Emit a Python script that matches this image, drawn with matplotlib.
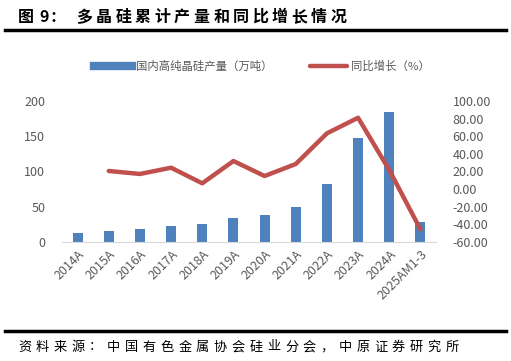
import numpy as np
import matplotlib
matplotlib.use("Agg")
import matplotlib.pyplot as plt
from matplotlib.lines import Line2D

plt.rcParams['font.family'] = ['Noto Sans CJK SC', 'DejaVu Sans']

years = ["2014A", "2015A", "2016A", "2017A", "2018A", "2019A", "2020A",
         "2021A", "2022A", "2023A", "2024A", "2025AM1-3"]
output = [13.2, 15.6, 18.4, 23.2, 25.0, 33.6, 38.3, 49.6, 82.0, 147.0, 184.0, 29.0]
growth = [np.nan, 20.6, 17.2, 24.3, 6.6, 31.9, 14.9, 28.5, 63.3, 81.0, 21.7, -45.6]

title = "多晶硅累计产量和同比增长情况"
source = "资料来源：中国有色金属协会硅业分会，中原证券研究所"

bar_color = "#4f81bd"
line_color = "#c0504d"
tick_color = "#595959"

fig = plt.figure(figsize=(5.11, 3.61), dpi=100)
ax = fig.add_axes([62/511, 1 - 242/361, 374/511, 141/361])
x = np.arange(len(years))
ax.bar(x, output, width=0.32, color=bar_color, zorder=2)
ax.set_xlim(-0.5, len(years) - 0.5)
ax.set_ylim(0, 200)
ax.set_yticks([0, 50, 100, 150, 200])
ax.set_xticks(x)
ax.set_xticklabels(years, rotation=45, ha="right", rotation_mode="anchor")
for s in ["top", "right", "left"]:
    ax.spines[s].set_visible(False)
ax.spines["bottom"].set_color("#d9d9d9")
ax.tick_params(axis="both", length=0, colors=tick_color, labelsize=9)
ax.tick_params(axis="y", pad=12)
ax.tick_params(axis="x", pad=4)

ax2 = ax.twinx()
ax2.plot(x, growth, color=line_color, lw=3.2, solid_capstyle="round", zorder=3)
ax2.set_ylim(-60, 100)
ax2.set_yticks(np.arange(-60, 101, 20))
ax2.set_yticklabels(["%.2f" % v for v in np.arange(-60, 101, 20)])
for s in ["top", "right", "left", "bottom"]:
    ax2.spines[s].set_visible(False)
ax2.tick_params(axis="y", length=0, colors=tick_color, labelsize=9, pad=12)

handles = [Line2D([], [], color=bar_color, lw=6),
           Line2D([], [], color=line_color, lw=3.2, solid_capstyle="round")]
fig.legend(handles, ["国内高纯晶硅产量（万吨）", "同比增长（%）"],
           loc="center left", bbox_to_anchor=(94/511, 1 - 66/361), ncol=2,
           frameon=False, fontsize=8.2, labelcolor=tick_color,
           handlelength=3.3, columnspacing=3.3, handletextpad=0.35,
           borderpad=0, borderaxespad=0)

# title, spaced out like the source document
for ch, px in [("图", 18), ("9", 39), ("：", 50)]:
    fig.text(px/511, 1 - 17/361, ch, fontsize=11.5, fontweight="bold",
             va="center", ha="left")
for i, ch in enumerate(title):
    fig.text((76 + i * 19.6)/511, 1 - 17/361, ch, fontsize=11.5,
             fontweight="bold", va="center", ha="left")
fig.add_artist(Line2D([5/511, 506/511], [1 - 30/361] * 2, color="black", lw=2.5))
fig.add_artist(Line2D([5/511, 506/511], [1 - 331/361] * 2, color="black", lw=2.5))
for i, ch in enumerate(source):
    fig.text((18 + i * 17.8)/511, 1 - 347/361, ch, fontsize=9.5,
             va="center", ha="left")

fig.savefig("out.png", dpi=100)
